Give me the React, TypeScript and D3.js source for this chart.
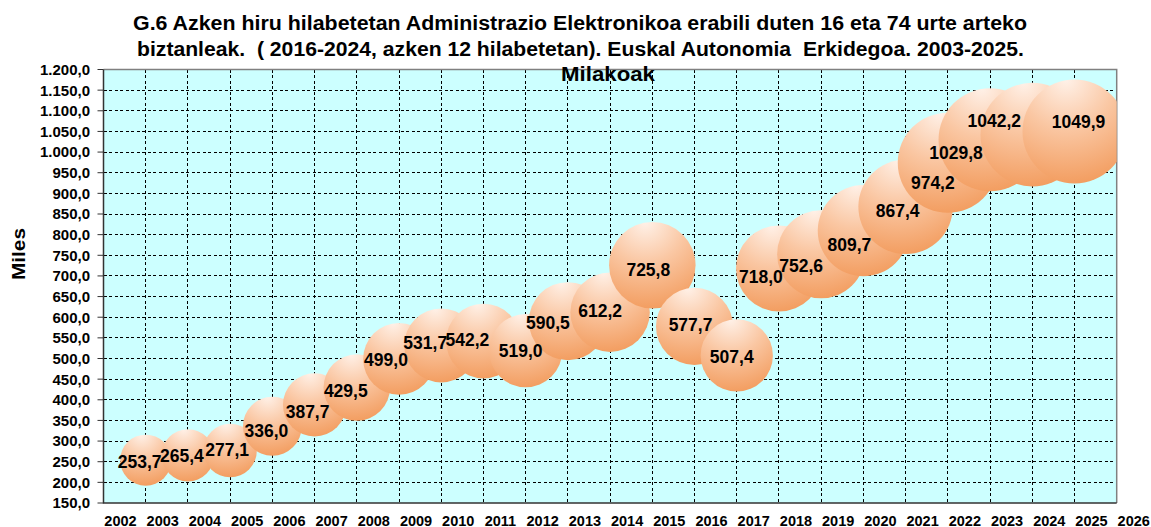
import React from "react";
import * as d3 from "d3";

const years = [2003, 2004, 2005, 2006, 2007, 2008, 2009, 2010, 2011, 2012, 2013, 2014, 2015, 2016, 2017, 2018, 2019, 2020, 2021, 2022, 2023, 2024, 2025];
const values = [253.7, 265.4, 277.1, 336.0, 387.7, 429.5, 499.0, 531.7, 542.2, 519.0, 590.5, 612.2, 725.8, 577.7, 507.4, 718.0, 752.6, 809.7, 867.4, 974.2, 1029.8, 1042.2, 1049.9];
const xTickYears = [2002, 2003, 2004, 2005, 2006, 2007, 2008, 2009, 2010, 2011, 2012, 2013, 2014, 2015, 2016, 2017, 2018, 2019, 2020, 2021, 2022, 2023, 2024, 2025, 2026];
const yTickValues = [150, 200, 250, 300, 350, 400, 450, 500, 550, 600, 650, 700, 750, 800, 850, 900, 950, 1000, 1050, 1100, 1150, 1200];
const titleLines = [
  "G.6 Azken hiru hilabetetan Administrazio Elektronikoa erabili duten 16 eta 74 urte arteko",
  "biztanleak.  ( 2016-2024, azken 12 hilabetetan). Euskal Autonomia  Erkidegoa. 2003-2025.",
];
const subTitle = "Milakoak";
const yAxisTitle = "Miles";

// label nudges (px) as placed in the original chart
const labelNudge: [number, number][] = [
  [-6, 2], [-6, 0], [-3, -1], [-6, 4], [-7, 7], [-11, 3], [-13, 1], [-16, -3], [-16, -1], [-5, 0],
  [-20, 2], [-10, -1], [-4, 4], [-4, -2], [-5, 1], [-18, 8], [-20, 11], [-14, 14], [-8, 4], [-15, 20],
  [-34, 13], [-38, -14], [4, -10],
];

const W = 1151;
const H = 527;
const L = 103.5, R = 1116.7, T = 69.5, B = 503;
const FONT = "'Liberation Sans', Arial, sans-serif";

const fmt = (v: number) => {
  const s = v.toFixed(1).replace(".", ",");
  const [i, d] = s.split(",");
  return i.replace(/\B(?=(\d{3})+(?!\d))/g, ".") + "," + d;
};
const fmtLabel = (v: number) => v.toFixed(1).replace(".", ",");

export default function App() {
  const x = d3.scaleLinear().domain([2002, 2026]).range([L, R]);
  const y = d3.scaleLinear().domain([150, 1200]).range([B, T]);
  const r = d3.scaleSqrt().domain([0, 1049.9]).range([0, 52]);

  return (
    <svg width={W} height={H} style={{ position: "absolute", left: 0, top: 0, background: "#fff" }} fontFamily={FONT}>
      <defs>
        <radialGradient id="bub" cx="0.42" cy="0.0" r="1.05" fx="0.42" fy="0.0">
          <stop offset="0" stopColor="#FFF1E8" />
          <stop offset="0.45" stopColor="#FAC7A3" />
          <stop offset="1" stopColor="#F29A5B" />
        </radialGradient>
        <clipPath id="plotClip">
          <rect x={L} y={T} width={R - L} height={B - T} />
        </clipPath>
      </defs>
      <rect x={L} y={T} width={R - L} height={B - T} fill="#CCFFFF" />
      {/* grid */}
      <g stroke="#000" strokeWidth={1} strokeDasharray="3,2.5" shapeRendering="crispEdges">
        {yTickValues.filter((v) => v > 150 && v < 1200).map((v) => (
          <line key={"h" + v} x1={L} x2={R} y1={y(v)} y2={y(v)} />
        ))}
        {xTickYears.filter((t) => t > 2002 && t < 2026).map((t) => (
          <line key={"v" + t} x1={x(t)} x2={x(t)} y1={T} y2={B} />
        ))}
      </g>
      {/* border */}
      <path d={`M${L},${T}H${R}V${B}`} fill="none" stroke="#808080" strokeWidth={1.5} />
      <path d={`M${L},${T}V${B}H${R}`} fill="none" stroke="#333" strokeWidth={1.5} />
      {/* y ticks */}
      <g>
        {yTickValues.map((v) => (
          <g key={"yt" + v}>
            <line x1={L - 6} x2={L} y1={y(v)} y2={y(v)} stroke="#333" strokeWidth={1} />
            <text x={90} y={y(v)} dy="0.36em" textAnchor="end" fontSize={15} fontWeight="bold" fill="#000">
              {fmt(v)}
            </text>
          </g>
        ))}
      </g>
      {/* x labels */}
      <g>
        {xTickYears.map((t) => (
          <text key={"xt" + t} x={x(t) + 17} y={525.5} textAnchor="middle" fontSize={14.5} fontWeight="bold" fill="#000">
            {t}
          </text>
        ))}
      </g>
      {/* bubbles */}
      <g clipPath="url(#plotClip)">
        {values.map((v, i) => (
          <circle key={"b" + i} cx={x(years[i])} cy={y(v)} r={r(v)} fill="url(#bub)" />
        ))}
      </g>
      {/* labels */}
      <g>
        {values.map((v, i) => (
          <text
            key={"l" + i}
            x={x(years[i]) + labelNudge[i][0]}
            y={y(v) + labelNudge[i][1]}
            dy="0.36em"
            textAnchor="middle"
            fontSize={17.5}
            fontWeight="bold"
            fill="#000"
          >
            {fmtLabel(v)}
          </text>
        ))}
      </g>
      {/* titles */}
      <g fontWeight="bold" fill="#000" textAnchor="middle">
        <text x={580} y={30} fontSize={20} textLength={894} lengthAdjust="spacingAndGlyphs" style={{ whiteSpace: "pre" }}>{titleLines[0]}</text>
        <text x={580.5} y={56} fontSize={20} textLength={887} lengthAdjust="spacingAndGlyphs" style={{ whiteSpace: "pre" }}>{titleLines[1]}</text>
        <text x={608} y={81} fontSize={20} textLength={94} lengthAdjust="spacingAndGlyphs">{subTitle}</text>
      </g>
      <text transform="translate(25,254) rotate(-90)" textAnchor="middle" fontSize={18} fontWeight="bold" textLength={52} lengthAdjust="spacingAndGlyphs">
        {yAxisTitle}
      </text>
    </svg>
  );
}
